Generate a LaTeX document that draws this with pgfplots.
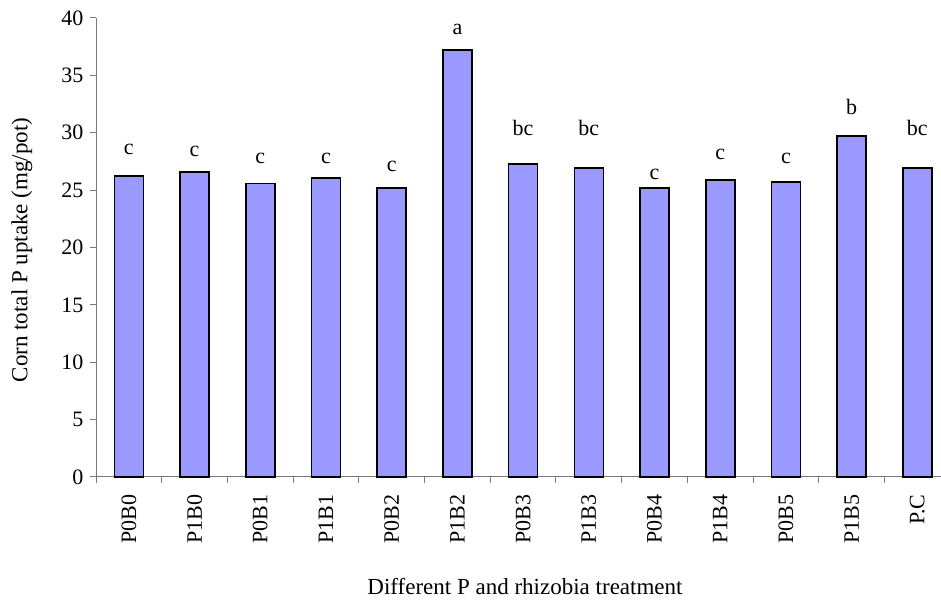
\documentclass[border=0pt]{standalone}
\usepackage{fontspec}
\setmainfont{Liberation Serif}
\usepackage{pgfplots}
\pgfplotsset{compat=1.18}
\definecolor{barblue}{RGB}{153,153,255}
\definecolor{axisgray}{RGB}{120,120,120}

\begin{document}
\begin{tikzpicture}[x=1pt,y=1pt]
\path[use as bounding box] (0,0) rectangle (941,601);
\begin{axis}[
  at={(96pt,124pt)}, anchor=south west,
  scale only axis, width=845pt, height=459pt,
  xmin=-0.5, xmax=12.36, ymin=0, ymax=40,
  axis lines=left,
  axis line style={-, draw=axisgray, line width=1pt},
  clip=false,
  ybar, bar width=29pt,
  xtick={0,...,12},
  xticklabels={P0B0,P1B0,P0B1,P1B1,P0B2,P1B2,P0B3,P1B3,P0B4,P1B4,P0B5,P1B5,P.C},
  minor xtick={-0.5,0.5,...,11.5},
  major x tick style={draw=none},
  minor x tick style={draw=axisgray, line width=1pt},
  minor tick length=6pt,
  ytick={0,5,...,40},
  ytick style={draw=axisgray, line width=1pt},
  major tick length=6pt,
  tick align=outside,
  xticklabel style={rotate=90, anchor=east, font=\fontsize{22}{24}\selectfont, xshift=-8pt},
  yticklabel style={font=\fontsize{22}{24}\selectfont, xshift=-3pt},
  /pgf/number format/assume math mode=true,
]
\addplot[fill=barblue, draw=black, line width=1.6pt] coordinates {
  (0,26.23) (1,26.58) (2,25.56) (3,26.06) (4,25.16) (5,37.21) (6,27.28)
  (7,26.93) (8,25.16) (9,25.86) (10,25.71) (11,29.72) (12,26.93)
};
% significance letters
\begin{scope}[every node/.style={anchor=base, font=\fontsize{22}{24}\selectfont, inner sep=0pt}]
\node at (axis cs:0,28.12) {c};
\node at (axis cs:1,27.97) {c};
\node at (axis cs:2,27.28) {c};
\node at (axis cs:3,27.28) {c};
\node at (axis cs:4,26.58) {c};
\node at (axis cs:5,38.58) {a};
\node at (axis cs:6,29.80) {bc};
\node at (axis cs:7,29.80) {bc};
\node at (axis cs:8,25.93) {c};
\node at (axis cs:9,27.63) {c};
\node at (axis cs:10,27.28) {c};
\node at (axis cs:11,31.61) {b};
\node at (axis cs:12,29.80) {bc};
\end{scope}
\end{axis}
\node[rotate=90, font=\fontsize{23}{25}\selectfont] at (22,351) {Corn total P uptake (mg/pot)};
\node[font=\fontsize{23}{25}\selectfont] at (525,14) {Different P and rhizobia treatment};
\end{tikzpicture}
\end{document}
